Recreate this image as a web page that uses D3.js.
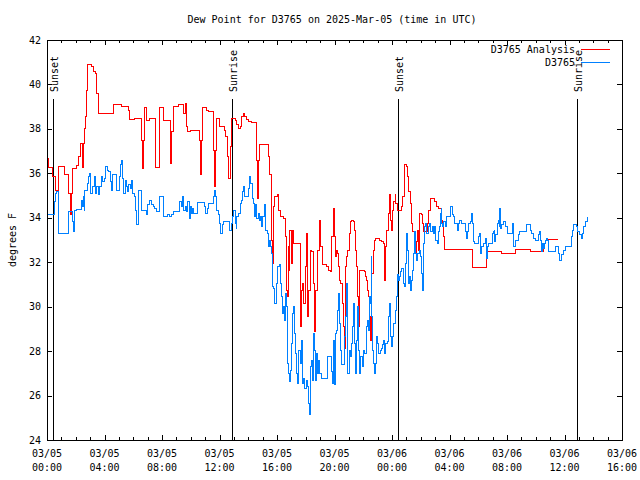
<!DOCTYPE html>
<html>
<head>
<meta charset="utf-8">
<script src="https://cdn.jsdelivr.net/npm/d3@7"></script>
<style>
  body { margin: 0; background: #fff; }
  svg { display: block; }
  text { font-family: "DejaVu Sans Mono", monospace; font-size: 10px; fill: #000; }
</style>
</head>
<body>
<svg id="chart" width="640" height="480"></svg>
<script>
// ---- DATA (hours after 2025-03-05 00:00 UTC, dew point in °F) ----
const chartTitle = "Dew Point for D3765 on 2025-Mar-05 (time in UTC)";
const yLabel = "degrees F";
const seriesNames = ["D3765 Analysis", "D3765"];
const seriesColors = ["#ff0000", "#0080ff"];

const analysisHours = [0,0.05,0.09,0.37,0.56,0.79,1.21,1.53,1.65,1.7,1.76,2.06,2.18,2.3,2.48,2.53,2.6,2.69,2.76,2.83,3.11,3.22,3.34,3.45,3.57,4.61,5.15,5.66,5.77,6.12,6.47,6.59,6.66,6.72,6.77,6.93,7.16,7.56,7.86,8.09,8.6,8.67,8.79,9.14,9.48,9.6,9.72,9.79,9.95,10.64,10.71,10.77,10.83,11.11,11.22,11.57,11.64,11.7,11.76,11.99,12.38,12.45,12.55,12.61,12.78,12.85,13.08,13.19,13.31,13.43,13.54,13.66,13.77,13.89,14.01,14.24,14.59,14.66,14.71,14.75,15.44,15.51,15.63,15.7,15.75,15.79,15.86,16.02,16.12,16.21,16.44,16.56,16.63,16.72,16.79,16.86,16.9,17.02,17.07,17.14,17.6,17.67,17.76,17.83,17.95,18.02,18.11,18.2,18.3,18.41,18.53,18.64,18.71,18.81,18.94,19.04,19.15,19.46,19.57,19.69,19.8,19.92,19.99,20.08,20.15,20.22,20.27,20.34,20.45,20.55,20.61,20.68,20.78,20.85,20.92,21.01,21.08,21.15,21.31,21.38,21.47,21.54,21.61,21.7,21.77,22.08,22.17,22.24,22.31,22.35,22.42,22.49,22.54,22.59,22.7,22.77,22.86,23.1,23.24,23.4,23.47,23.51,23.58,23.65,23.79,23.86,23.93,23.98,24.02,24.12,24.21,24.26,24.35,24.67,24.74,24.84,24.9,25.02,25.09,25.18,25.28,25.37,25.44,25.6,25.67,25.74,25.83,25.9,26.02,26.11,26.18,26.48,26.57,26.69,26.99,27.11,27.22,27.46,27.5,27.57,27.64,29.59,30.59,31.63,32.62,33.64,34.57,34.69,34.76,35.52];
const analysisDewF = [37.35,36.68,36.27,35.85,35.25,36.33,35.97,35.1,34.13,35.1,36.22,36.37,36.78,37.35,36.27,37.35,38.03,38.55,39.75,40.88,40.8,40.6,40.5,39.6,38.7,39.12,39.03,38.85,38.43,38.49,38.46,37.5,36.2,37.5,38.97,38.4,38.49,36.27,38.97,38.37,36.45,37.9,39.03,39.12,38.7,39.15,38.1,37.88,37.95,37.5,35.97,37.5,38.97,38.85,38.78,37.05,35.4,37.05,38.48,38.1,37.95,37.65,36.75,35.78,37.2,38.48,38.4,38.18,38.03,38.1,38.55,38.7,38.55,38.43,38.33,38.28,36.6,34.88,36.6,37.28,36.75,35.93,33.0,31.95,33.0,34.5,34.95,35.03,34.35,34.05,33.98,33.15,30.75,30.45,32.7,31.65,33.45,31.95,33.45,32.85,29.1,30.75,31.05,30.15,31.8,33.3,29.55,30.75,32.55,32.48,31.05,28.9,30.75,32.55,33.9,32.7,31.88,31.8,31.65,31.58,33.15,34.43,33.15,32.25,32.55,32.4,31.8,31.2,31.05,30.15,29.1,28.1,31.8,32.25,32.55,33.3,33.83,33.9,33.83,33.45,32.55,31.8,30.45,29.1,31.65,31.58,31.35,31.2,30.75,30.45,29.55,28.5,30.3,31.5,32.55,33.0,33.08,33.0,32.93,32.85,31.95,31.2,32.7,33.45,34.2,35.03,33.9,33.45,34.35,34.73,35.03,34.65,34.35,34.5,34.95,36.3,36.38,36.3,35.85,35.18,34.65,33.75,33.38,32.4,32.93,33.45,32.55,34.2,34.13,33.75,33.38,33.75,34.35,34.88,34.73,34.5,34.43,33.9,33.68,33.15,32.58,31.77,32.48,32.4,32.58,32.48,32.85,33.0,33.03,33.03];

const stationHours = [0,0.05,0.51,0.6,0.67,0.79,0.83,1.48,1.76,1.83,1.9,2.06,2.37,2.46,2.53,2.6,2.64,2.83,2.92,2.99,3.06,3.15,3.27,3.34,3.45,3.57,3.64,3.76,3.85,3.99,4.08,4.2,4.31,4.43,4.5,4.57,4.8,5.03,5.1,5.19,5.26,5.33,5.43,5.5,5.59,5.7,5.8,5.89,5.96,6.08,6.17,6.26,6.35,6.59,6.93,7.0,7.1,7.24,7.4,7.51,7.63,7.86,8.09,8.39,8.49,8.67,8.79,9.25,9.37,9.44,9.53,9.65,9.72,9.79,9.88,9.95,10.06,10.13,10.18,10.46,10.99,11.06,11.15,11.22,11.57,11.64,11.71,11.8,11.92,12.03,12.1,12.2,12.27,12.68,12.73,12.82,12.89,12.96,13.08,13.15,13.19,13.31,13.43,13.5,13.59,13.66,13.77,14.05,14.12,14.19,14.28,14.35,14.42,14.52,14.59,14.68,14.77,14.86,14.93,15.0,15.1,15.17,15.35,15.42,15.51,15.58,15.63,15.7,15.79,15.86,15.98,16.05,16.16,16.21,16.28,16.35,16.44,16.51,16.6,16.67,16.74,16.81,16.88,16.95,17.02,17.11,17.18,17.25,17.32,17.39,17.46,17.53,17.6,17.69,17.76,17.83,17.92,18.02,18.09,18.18,18.25,18.32,18.41,18.48,18.55,18.62,18.69,18.76,18.83,18.9,18.99,19.11,19.52,19.8,19.87,19.94,20.01,20.08,20.15,20.22,20.27,20.31,20.38,20.45,20.5,20.68,20.78,20.85,20.92,21.01,21.08,21.15,21.24,21.31,21.38,21.47,21.54,21.61,21.7,21.77,21.84,21.94,22.01,22.12,22.24,22.31,22.35,22.42,22.49,22.54,22.59,22.66,22.73,22.79,22.86,22.93,23.0,23.05,23.17,23.28,23.35,23.42,23.51,23.58,23.68,23.75,23.81,23.88,23.98,24.05,24.12,24.21,24.28,24.35,24.39,24.44,24.51,24.58,24.67,24.79,24.86,24.95,25.02,25.09,25.14,25.21,25.28,25.37,25.44,25.51,25.55,25.62,25.72,25.79,25.88,25.97,26.06,26.11,26.18,26.25,26.34,26.41,26.53,26.6,26.69,26.83,26.9,26.99,27.06,27.15,27.22,27.29,27.36,27.41,27.46,27.52,27.59,27.69,27.76,28.04,28.1,28.2,28.29,28.38,28.57,28.66,28.73,28.85,29.08,29.15,29.24,29.31,29.43,29.54,29.61,29.68,29.77,30.01,30.08,30.15,30.24,30.35,30.47,30.54,30.58,30.65,30.7,30.98,31.05,31.12,31.16,31.23,31.33,31.4,31.46,31.51,31.56,31.63,31.74,31.93,32.02,32.37,32.44,32.62,32.79,32.86,33.37,33.6,33.71,33.83,33.95,34.18,34.29,34.36,34.41,34.46,34.53,34.6,34.69,34.76,34.83,34.87,35.34,35.57,35.64,35.8,35.96,36.1,36.5,36.57,36.66,36.8,36.89,37.03,37.15,37.24,37.35,37.47,37.59];
const stationDewF = [34.73,34.13,34.73,35.1,35.18,34.5,33.3,34.28,33.83,33.38,34.35,34.38,34.8,34.5,34.95,34.35,35.25,35.55,35.85,36.0,35.1,35.4,35.85,35.1,35.4,35.03,35.4,35.85,35.63,35.78,36.33,36.15,36.08,35.63,35.25,35.97,35.25,35.85,36.38,36.6,35.78,35.1,35.7,35.4,35.18,35.48,35.33,35.7,35.1,34.95,34.35,33.68,35.25,34.35,34.13,34.58,34.8,34.58,34.5,34.43,34.28,34.95,34.05,34.13,34.05,34.13,34.28,34.73,34.5,34.95,34.35,34.5,34.28,34.73,33.98,34.5,34.2,34.43,34.2,34.7,34.5,34.2,34.43,34.65,34.95,35.25,34.95,34.35,34.13,33.75,33.3,33.68,33.83,33.68,33.45,33.75,34.05,34.35,33.75,33.53,34.05,34.2,34.65,34.8,35.18,35.4,34.95,35.33,35.85,35.55,34.88,34.65,34.05,34.58,33.98,34.2,33.9,34.05,33.6,34.05,34.58,33.45,33.3,32.7,33.0,32.7,32.4,30.9,30.83,30.15,31.05,31.8,31.88,31.05,30.45,29.7,30.0,29.4,30.6,30.0,27.45,27.0,26.63,27.15,28.35,29.7,30.0,28.8,27.9,27.0,26.55,28.05,27.45,28.5,26.55,26.78,26.33,26.7,26.4,25.65,25.13,27.3,27.6,26.7,28.8,28.05,26.7,27.9,27.0,27.6,27.0,26.78,27.75,27.08,26.55,28.5,26.48,28.8,28.95,29.85,30.3,30.6,29.25,28.05,27.38,28.65,29.55,31.05,27.0,28.05,27.75,28.35,29.1,30.15,28.35,27.0,28.5,30.0,28.05,27.0,27.75,27.3,28.05,27.9,29.1,29.4,28.95,30.45,30.15,32.25,29.55,28.05,27.45,27.0,27.45,28.65,28.35,27.9,28.05,28.13,28.28,28.5,27.9,28.35,28.43,29.55,30.15,28.65,28.2,28.65,29.25,29.85,30.45,30.9,31.43,31.2,31.35,31.58,31.73,31.05,30.9,31.95,33.3,32.55,31.05,31.35,30.75,31.2,31.65,32.4,33.38,32.4,32.1,32.4,32.55,32.25,31.5,30.75,32.85,33.6,33.75,33.3,33.6,33.75,33.38,33.6,33.3,33.6,33.0,32.85,33.38,33.6,34.2,34.43,33.75,33.6,33.83,33.6,34.05,34.35,34.53,34.13,34.05,33.75,33.45,33.75,33.9,33.75,33.38,33.08,33.38,33.75,33.83,34.2,33.75,32.93,32.85,33.15,33.3,32.4,32.7,32.85,33.08,32.55,32.18,32.7,32.85,33.3,33.38,33.45,32.93,33.23,33.75,33.9,33.6,34.43,33.53,33.68,33.83,33.6,33.3,33.75,32.7,33.0,33.23,33.38,33.68,33.45,33.3,33.08,33.0,33.23,33.38,33.0,32.48,32.85,32.63,32.85,33.0,33.08,33.0,32.48,32.7,32.4,32.1,32.33,32.55,32.7,33.15,33.45,33.68,33.6,33.38,33.23,33.08,33.3,33.6,33.83,34.05];

const sunEventHours = [0.44, 12.89, 24.44, 36.89];
const sunEventLabels = ["Sunset", "Sunrise", "Sunset", "Sunrise"];
const yTickValues = [24, 26, 28, 30, 32, 34, 36, 38, 40, 42];
const xDomainHours = [0, 40];

// ---- CHART ----
const START = Date.UTC(2025, 2, 5, 0, 0);
const toDate = h => new Date(START + h * 3600e3);

const L = 47, R = 622, T = 40, B = 440;
const svg = d3.select("#chart");

const x = d3.scaleUtc().domain(xDomainHours.map(toDate)).range([L, R]);
const y = d3.scaleLinear().domain([24, 42]).range([B, T]);

svg.append("text").attr("x", 332).attr("y", 23).attr("text-anchor", "middle").text(chartTitle);

// axes (inward ticks, mirrored)
const g = svg.append("g").attr("shape-rendering", "crispEdges");
const majorX = d3.utcHour.every(4), minorX = d3.utcHour.every(1);
function strip(sel){ sel.select(".domain").remove(); sel.selectAll("text").remove(); }
g.append("g").attr("transform", `translate(0,${B})`).call(d3.axisBottom(x).ticks(minorX).tickSize(-3).tickFormat("")).call(strip);
g.append("g").attr("transform", `translate(0,${B})`).call(d3.axisBottom(x).ticks(majorX).tickSize(-5).tickFormat("")).call(strip);
g.append("g").attr("transform", `translate(0,${T})`).call(d3.axisTop(x).ticks(minorX).tickSize(-3).tickFormat("")).call(strip);
g.append("g").attr("transform", `translate(0,${T})`).call(d3.axisTop(x).ticks(majorX).tickSize(-5).tickFormat("")).call(strip);
g.append("g").attr("transform", `translate(${L},0)`).call(d3.axisLeft(y).tickValues(yTickValues).tickSize(-5).tickFormat("")).call(strip);
g.append("g").attr("transform", `translate(${R},0)`).call(d3.axisRight(y).tickValues(yTickValues).tickSize(-5).tickFormat("")).call(strip);
g.selectAll("line").attr("stroke", "#000");

// x labels
const fmtD = d3.utcFormat("%m/%d"), fmtT = d3.utcFormat("%H:%M");
x.ticks(majorX).forEach(d => {
  const t = svg.append("text").attr("x", x(d)).attr("text-anchor", "middle");
  t.append("tspan").attr("x", x(d)).attr("y", 457).text(fmtD(d));
  t.append("tspan").attr("x", x(d)).attr("y", 471).text(fmtT(d));
});
// y labels
yTickValues.forEach(v => {
  svg.append("text").attr("x", 41).attr("y", y(v)).attr("dy", "0.35em").attr("text-anchor", "end").text(v);
});
svg.append("text").attr("transform", "translate(16,240) rotate(-90)").attr("text-anchor", "middle").text(yLabel);

// sun event lines
sunEventHours.forEach((h, i) => {
  const xx = Math.round(x(toDate(h))) + 0.5;
  svg.append("line").attr("x1", xx).attr("x2", xx).attr("y1", 99).attr("y2", B)
    .attr("stroke", "#000").attr("stroke-width", 1);
  svg.append("text").attr("transform", `translate(${xx + 4},92) rotate(-90)`).text(sunEventLabels[i]);
});

// series
const line = d3.line().x(d => x(toDate(d[0]))).y(d => y(d[1])).curve(d3.curveStepAfter);
const red = analysisHours.map((h, i) => [h, analysisDewF[i]]);
const blue = stationHours.map((h, i) => [h, stationDewF[i]]);
svg.append("path").datum(red).attr("d", line).attr("fill", "none")
  .attr("stroke", seriesColors[0]).attr("stroke-width", 1).attr("shape-rendering", "crispEdges");
svg.append("path").datum(blue).attr("d", line).attr("fill", "none")
  .attr("stroke", seriesColors[1]).attr("stroke-width", 1).attr("shape-rendering", "crispEdges");

// frame
svg.append("rect").attr("x", L + 0.5).attr("y", T + 0.5).attr("width", R - L).attr("height", B - T)
  .attr("fill", "none").attr("stroke", "#000").attr("shape-rendering", "crispEdges");

// legend
const legY = [49, 62];
seriesNames.forEach((n, i) => {
  svg.append("text").attr("x", 575).attr("y", legY[i]).attr("dy", "0.35em").attr("text-anchor", "end").text(n);
  svg.append("line").attr("x1", 581).attr("x2", 610).attr("y1", legY[i] + 0.5).attr("y2", legY[i] + 0.5)
    .attr("stroke", seriesColors[i]).attr("stroke-width", 1);
});
</script>
</body>
</html>
